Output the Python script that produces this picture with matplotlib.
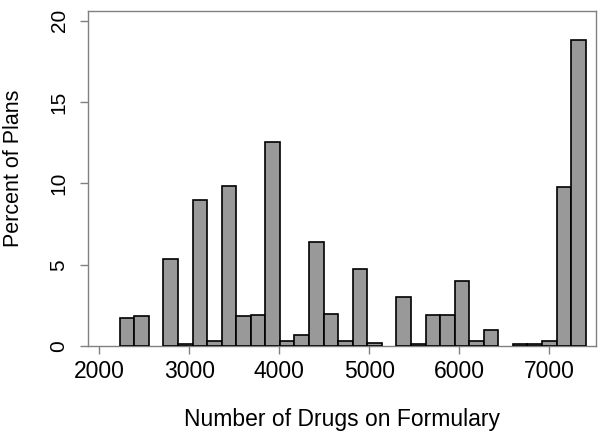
import numpy as np
import matplotlib.pyplot as plt

plt.rcParams['font.family'] = ['Liberation Sans', 'DejaVu Sans']

# histogram: 32 equal bins between the smallest and largest formulary size
bin_lo = 2227
bin_hi = 7404
n_bins = 32
pct_plans = [1.70, 1.85, 0.0, 5.35, 0.10, 8.98, 0.29, 9.85, 1.83, 1.91,
             12.55, 0.29, 0.70, 6.40, 1.97, 0.29, 4.76, 0.16, 0.0, 3.00,
             0.14, 1.89, 1.89, 3.98, 0.31, 0.96, 0.0, 0.14, 0.14, 0.29,
             9.78, 18.83]

x_ticks = [2000, 3000, 4000, 5000, 6000, 7000]
y_ticks = [0, 5, 10, 15, 20]

edges = np.linspace(bin_lo, bin_hi, n_bins + 1)
heights = np.array(pct_plans)
keep = heights > 0

fig = plt.figure(figsize=(6.02, 4.33), dpi=100)
ax = fig.add_axes([88 / 602, 1 - 346 / 433, (596 - 88) / 602, (346 - 11) / 433])

ax.bar(edges[:-1][keep], heights[keep], width=np.diff(edges)[keep], align='edge',
       color='#999999', edgecolor='black', linewidth=1.2, zorder=3)

ax.set_xlim(1874, 7519)
ax.set_ylim(0, 20.6)
ax.set_xticks(x_ticks)
ax.set_yticks(y_ticks)

for s in ax.spines.values():
    s.set_color('#808080')
    s.set_linewidth(1.0)
ax.tick_params(axis='both', colors='#808080', length=6, width=1.0,
               labelcolor='black')
ax.tick_params(axis='x', labelsize=16.5, pad=4)
ax.tick_params(axis='y', labelsize=15, labelrotation=90, pad=8)
for lab in ax.get_yticklabels():
    lab.set_va('center')

ax.set_xlabel('Number of Drugs on Formulary', fontsize=16.5, va='top')
ax.xaxis.set_label_coords(0.5, -0.185)
ax.set_ylabel('Percent of Plans', fontsize=15.5)
ax.yaxis.set_label_coords(-0.126, 0.53)

fig.savefig('out.png', dpi=100)
